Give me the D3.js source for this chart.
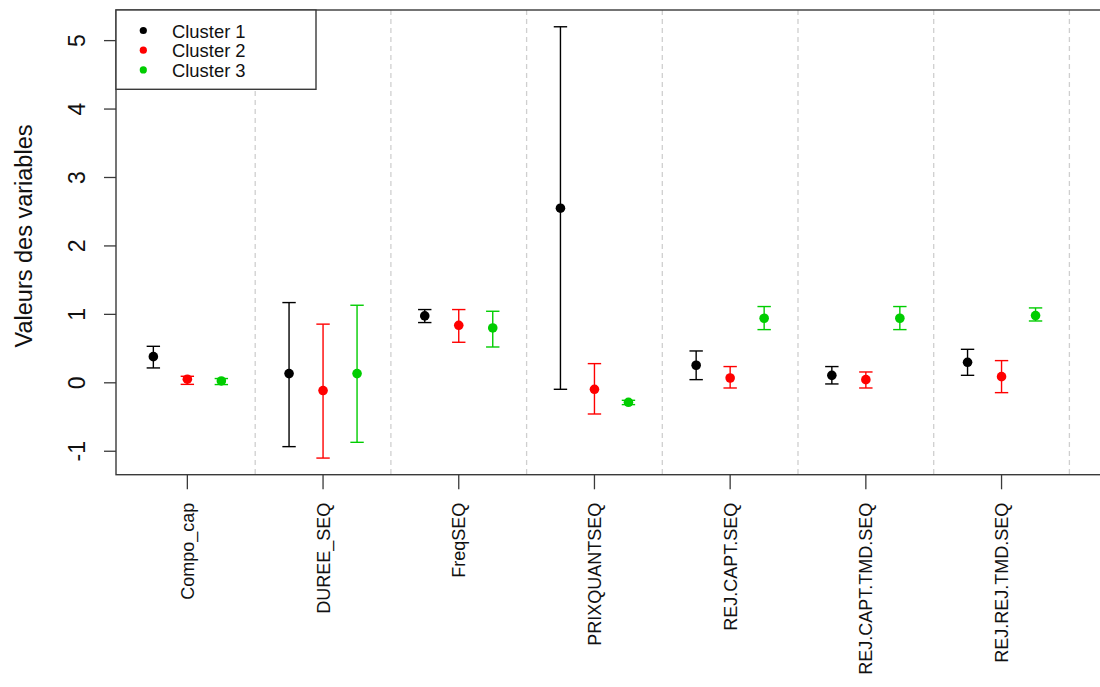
<!DOCTYPE html>
<html>
<head>
<meta charset="utf-8">
<script src="https://cdn.jsdelivr.net/npm/d3@7"></script>
<style>
  html, body { margin: 0; padding: 0; background: #fff; }
  svg { display: block; font-family: "Liberation Sans", Arial, sans-serif; }
</style>
</head>
<body>
<svg id="chart" width="1100" height="687"></svg>
<script>
const categories = ["Compo_cap", "DUREE_SEQ", "FreqSEQ", "PRIXQUANTSEQ", "REJ.CAPT.SEQ", "REJ.CAPT.TMD.SEQ", "REJ.REJ.TMD.SEQ"];
const clusters = ["Cluster 1", "Cluster 2", "Cluster 3"];
const clusterColors = ["#000000", "#FF0000", "#00CD00"];

const cluster1Mean = [0.375, 0.127, 0.970, 2.544, 0.249, 0.102, 0.292];
const cluster1Low  = [0.210, -0.940, 0.873, -0.102, 0.039, -0.024, 0.102];
const cluster1High = [0.526, 1.165, 1.063, 5.195, 0.458, 0.230, 0.482];

const cluster2Mean = [0.045, -0.120, 0.833, -0.102, 0.063, 0.039, 0.083];
const cluster2Low  = [-0.030, -1.107, 0.585, -0.463, -0.083, -0.083, -0.151];
const cluster2High = [0.088, 0.850, 1.063, 0.273, 0.230, 0.151, 0.317];

const cluster3Mean = [0.020, 0.127, 0.794, -0.292, 0.936, 0.936, 0.975];
const cluster3Low  = [-0.033, -0.877, 0.516, -0.326, 0.770, 0.770, 0.896];
const cluster3High = [0.055, 1.126, 1.038, -0.263, 1.107, 1.107, 1.087];

const yTicks = [-1, 0, 1, 2, 3, 4, 5];
const yTickLabels = ["-1", "0", "1", "2", "3", "4", "5"];
const yTitle = "Valeurs des variables";

const means = [cluster1Mean, cluster2Mean, cluster3Mean];
const lows = [cluster1Low, cluster2Low, cluster3Low];
const highs = [cluster1High, cluster2High, cluster3High];

const rows = [];
clusters.forEach((c, ci) => {
  categories.forEach((cat, i) => {
    rows.push({cluster: c, ci, cat, mean: means[ci][i], low: lows[ci][i], high: highs[ci][i]});
  });
});

const svg = d3.select("#chart");
const pLeft = 116, pTop = 10, pBottom = 474.7, pRight = 1102;

const x = d3.scaleBand().domain(categories).range([119.5, 119.5 + 7 * 135.7]).padding(0);
const xOff = d3.scalePoint().domain(clusters).range([-34, 34]);
const y = d3.scaleLinear().domain([-1.35, 5.44]).range([pBottom, pTop]);

const axisColor = "#3a3a3a";

// separators
svg.append("g").selectAll("line")
  .data(categories)
  .join("line")
  .attr("x1", d => x(d) + x.bandwidth())
  .attr("x2", d => x(d) + x.bandwidth())
  .attr("y1", pTop)
  .attr("y2", pBottom)
  .attr("stroke", "#cfcfcf")
  .attr("stroke-width", 1.3)
  .attr("stroke-dasharray", "5,4");

// error bars
const capHalf = 6.7;
const gBars = svg.append("g");
rows.forEach(r => {
  const cx = x(r.cat) + x.bandwidth() / 2 + xOff(r.cluster);
  const col = clusterColors[r.ci];
  gBars.append("line").attr("x1", cx).attr("x2", cx).attr("y1", y(r.low)).attr("y2", y(r.high))
    .attr("stroke", col).attr("stroke-width", 1.4);
  [r.low, r.high].forEach(v => {
    gBars.append("line").attr("x1", cx - capHalf).attr("x2", cx + capHalf).attr("y1", y(v)).attr("y2", y(v))
      .attr("stroke", col).attr("stroke-width", 1.4);
  });
  gBars.append("circle").attr("cx", cx).attr("cy", y(r.mean)).attr("r", 4.8).attr("fill", col);
});

// y axis
const yAxis = svg.append("g").attr("transform", `translate(${pLeft},0)`)
  .call(d3.axisLeft(y).tickValues(yTicks).tickSize(12).tickSizeOuter(0)
    .tickFormat((d, i) => yTickLabels[i]));
yAxis.select(".domain").remove();
yAxis.selectAll(".tick line").attr("stroke", axisColor).attr("stroke-width", 1.3);
yAxis.selectAll(".tick text")
  .attr("x", null).attr("dy", null)
  .attr("fill", "#111")
  .style("font-size", "23px")
  .attr("text-anchor", "middle")
  .attr("transform", "translate(-31,0) rotate(-90)");

// x axis
const xAxis = svg.append("g").attr("transform", `translate(0,${pBottom})`)
  .call(d3.axisBottom(x).tickSize(14.6).tickSizeOuter(0));
xAxis.select(".domain").remove();
xAxis.selectAll(".tick line").attr("stroke", axisColor).attr("stroke-width", 1.3);
xAxis.selectAll(".tick text")
  .attr("y", null).attr("dy", null)
  .attr("fill", "#111")
  .style("font-size", "18px")
  .attr("text-anchor", "end")
  .attr("transform", "translate(6.5,28) rotate(-90)");

// box
svg.append("rect").attr("x", pLeft).attr("y", pTop).attr("width", pRight - pLeft).attr("height", pBottom - pTop)
  .attr("fill", "none").attr("stroke", axisColor).attr("stroke-width", 1.4);

// y title
svg.append("text")
  .attr("transform", `translate(31.5,236) rotate(-90)`)
  .attr("text-anchor", "middle")
  .attr("fill", "#111")
  .style("font-size", "23.5px")
  .text(yTitle);

// legend
const lg = svg.append("g");
lg.append("rect").attr("x", pLeft).attr("y", pTop).attr("width", 200).attr("height", 79.3)
  .attr("fill", "#fff").attr("stroke", axisColor).attr("stroke-width", 1.4);
clusters.forEach((c, i) => {
  lg.append("circle").attr("cx", 143.3).attr("cy", 30.5 + i * 19.7).attr("r", 3.6).attr("fill", clusterColors[i]);
  lg.append("text").attr("x", 172).attr("y", 37.5 + i * 19.8).attr("fill", "#111")
    .style("font-size", "18.4px").text(c);
});
</script>
</body>
</html>
